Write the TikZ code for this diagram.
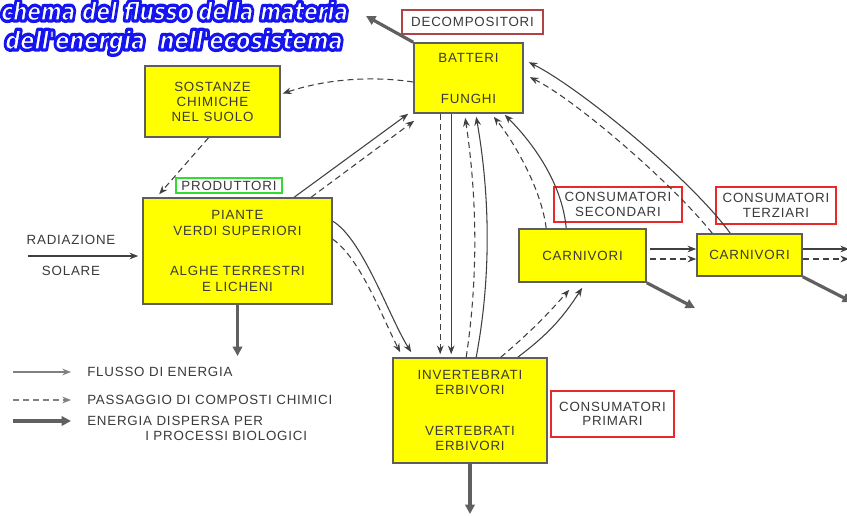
\documentclass[tikz,border=0pt]{standalone}
\usepackage{fontspec}
\usepackage{graphicx}
\setmainfont{Liberation Sans}[LetterSpace=6]
\newfontfamily\titlefont{DejaVu Sans}
\usetikzlibrary{arrows.meta,calc}

\definecolor{boxyellow}{HTML}{FFFF00}
\definecolor{boxedge}{HTML}{5E5E5E}
\definecolor{ink}{HTML}{3A3A3A}
\definecolor{linegray}{HTML}{404040}
\definecolor{lossgray}{HTML}{606060}
\definecolor{tagred}{HTML}{E62A2A}
\definecolor{tagdark}{HTML}{B04444}
\definecolor{taggreen}{HTML}{30DD30}
\definecolor{titleblue}{HTML}{1414F0}

% bubble lettering: a wide blue stroke behind, white letters with a thin blue rim in front
\newcommand\haloed[1]{{\color{white}%
  \rlap{\special{pdf:literal direct q 0.08 0.08 0.94 RG 2.2 w 1 j 1 J 1 Tr}#1\special{pdf:literal direct Q}}%
  \special{pdf:literal direct q 0.08 0.08 0.94 RG 0.5 w 1 j 2 Tr}#1\special{pdf:literal direct Q}}}

\tikzset{
  box/.style={draw=boxedge, line width=1.2pt, fill=boxyellow, inner sep=0pt,
    align=center, text=ink, font=\fontsize{10}{12}\selectfont},
  tag/.style={draw=tagred, line width=0.8pt, fill=white, inner sep=0pt,
    align=center, text=ink, font=\fontsize{10}{11}\selectfont},
  plain/.style={inner sep=0pt, text=ink, font=\fontsize{10}{12}\selectfont},
  flow/.style={draw=linegray, line width=0.8pt, -{Stealth[length=6.5pt,width=5pt]}},
  chem/.style={flow, dash pattern=on 4.5pt off 3pt},
  loss/.style={draw=lossgray, line width=2.4pt, -{Triangle[length=7pt,width=7pt]}},
}

\begin{document}
\begin{tikzpicture}[x=0.75pt,y=-0.75pt]
\fill[white] (0,0) rectangle (847,515);
\useasboundingbox (0,0) rectangle (847,515);

% title
\node[anchor=base west, inner sep=0pt] (titleA) at (1,20)
  {\resizebox{260pt}{14pt}{\titlefont\bfseries\itshape\haloed{chema del flusso della materia}}};
\node[anchor=base west, inner sep=0pt] (titleB) at (5,49)
  {\resizebox{253pt}{14pt}{\titlefont\bfseries\itshape\haloed{dell'energia\ \ nell'ecosistema}}};

% compartments
\node[box, minimum width=81.75pt, minimum height=52.5pt] (batt) at (468.5,78)
  {\raisebox{-2.5pt}{BATTERI}\\[18.75pt]\raisebox{-2.5pt}{FUNGHI}};
\node[box, minimum width=101.25pt, minimum height=53.25pt,
  font=\fontsize{10}{11.25}\selectfont] (sost) at (212.5,101.5)
  {SOSTANZE\\CHIMICHE\\NEL SUOLO};
\node[box, minimum width=141.75pt, minimum height=79.5pt] (piante) at (237.5,251)
  {PIANTE\\VERDI SUPERIORI\\[18pt]ALGHE TERRESTRI\\E LICHENI};
\node[box, minimum width=115.5pt, minimum height=78.75pt,
  font=\fontsize{10}{11.25}\selectfont] (invert) at (470,410.5)
  {INVERTEBRATI\\ERBIVORI\\[19.5pt]VERTEBRATI\\ERBIVORI};
\node[box, minimum width=95.25pt, minimum height=39.75pt] (carn1) at (582.5,255.5) {CARNIVORI};
\node[box, minimum width=78.75pt, minimum height=31.5pt] (carn2) at (749.5,255) {CARNIVORI};

% trophic level tags
\node[tag, draw=tagdark, minimum width=105.75pt, minimum height=18pt] (decomp) at (472.5,22) {DECOMPOSITORI};
\node[tag, draw=taggreen, minimum width=79.5pt, minimum height=11.25pt] (prod) at (229,185.5) {PRODUTTORI};
\node[tag, minimum width=96pt, minimum height=26.25pt] (csec) at (618,204.5) {CONSUMATORI\\SECONDARI};
\node[tag, minimum width=90pt, minimum height=27.75pt] (cter) at (776,205.5) {CONSUMATORI\\TERZIARI};
\node[tag, minimum width=92.25pt, minimum height=34.5pt] (cpri) at (612.5,414) {CONSUMATORI\\PRIMARI};

% solar input
\node[plain] (rad1) at (71,240) {RADIAZIONE};
\node[plain] (rad2) at (71,271) {SOLARE};
\coordinate (sun) at (28,256);
\draw[flow, line width=1.2pt] (sun) -- ($(piante.west)+(-4,5)$);

% decomposers release chemicals to the soil, soil feeds the producers
\draw[chem] ($(batt.west)+(0,4)$) .. controls +(-40,-6) and +(45,-15) .. ($(sost.east)+(2,-8)$);
\draw[chem] ($(sost.south)+(-4,0)$) -- ($(piante.north west)+(17,-3)$);

% producers to decomposers
\draw[flow] ($(piante.north west)+(152,0)$) -- ($(batt.south west)+(-5,0)$);
\draw[chem] ($(piante.north west)+(169,0)$) -- ($(batt.south west)+(1,7)$);

% producers to primary consumers
\draw[flow] ($(piante.north east)+(0,24)$) .. controls +(30,18) and +(-22,-35) .. ($(invert.north west)+(19,-5)$);
\draw[chem] ($(piante.north east)+(0,42)$) .. controls +(28,20) and +(-18,-35) .. ($(invert.north west)+(8,-5)$);

% decomposers and primary consumers
\draw[chem] ($(batt.south west)+(27,0)$) -- ($(invert.north west)+(48,-3)$);
\draw[flow] ($(batt.south west)+(38,0)$) -- ($(invert.north west)+(59,-3)$);
\draw[chem] ($(invert.north west)+(74,0)$) .. controls +(12,-80) and +(12,80) .. ($(batt.south west)+(52,4)$);
\draw[flow] ($(invert.north west)+(84,0)$) .. controls +(15,-80) and +(14,80) .. ($(batt.south west)+(63,3)$);

% primary to secondary consumers
\draw[chem] ($(invert.north east)+(-47,0)$) to[bend right=4] ($(carn1.south west)+(51,7)$);
\draw[flow] ($(invert.north east)+(-30,0)$) to[bend right=10] ($(carn1.south west)+(64,5)$);

% secondary consumers to decomposers
\draw[chem] ($(carn1.north west)+(28,0)$) .. controls +(-5,-40) and +(20,25) .. ($(batt.south east)+(-30,3)$);
\draw[flow] ($(carn1.north west)+(48,0)$) .. controls +(-4,-45) and +(28,28) .. ($(batt.south east)+(-19,1)$);

% tertiary consumers to decomposers
\draw[chem] ($(carn2.north west)+(16,0)$) .. controls +(-40,-50) and +(45,22) .. ($(batt.north east)+(6,35)$);
\draw[flow] ($(carn2.north west)+(34,0)$) .. controls +(-40,-55) and +(50,25) .. ($(batt.north east)+(5,20)$);

% secondary to tertiary consumers, and onwards
\draw[flow] ($(carn1.east)+(3,-6.5)$) -- ($(carn2.west)+(0,-6)$);
\draw[chem] ($(carn1.east)+(3,3.5)$) -- ($(carn2.west)+(0,4)$);
\coordinate (outF) at (849,249);
\coordinate (outC) at (849,259);
\draw[flow] ($(carn2.east)+(0,-6)$) -- (outF);
\draw[chem] ($(carn2.east)+(0,4)$) -- (outC);

% energy dispersed by biological processes
\coordinate (lossB) at (366,16);
\coordinate (lossP) at (237.5,356);
\coordinate (lossI) at (470,514);
\coordinate (lossC1) at (695,308);
\coordinate (lossC2) at (852,302);
\draw[loss] (batt.north west) -- (lossB);
\draw[loss] (piante.south) -- (lossP);
\draw[loss] (invert.south) -- (lossI);
\draw[loss] (carn1.south east) -- (lossC1);
\draw[loss] (carn2.south east) -- (lossC2);

% legend
\coordinate (legAa) at (13,372);  \coordinate (legAb) at (71,372);
\coordinate (legBa) at (13,400);  \coordinate (legBb) at (71,400);
\coordinate (legCa) at (13,421);  \coordinate (legCb) at (71,421);
\draw[flow, draw=gray] (legAa) -- (legAb);
\draw[chem, draw=gray] (legBa) -- (legBb);
\draw[loss] (legCa) -- (legCb);
\node[plain, anchor=west] (legA) at (87,372) {FLUSSO DI ENERGIA};
\node[plain, anchor=west] (legB) at (87,400) {PASSAGGIO DI COMPOSTI CHIMICI};
\node[plain, anchor=west] (legC) at (87,421) {ENERGIA DISPERSA PER};
\node[plain, anchor=west] (legD) at (145,436) {I PROCESSI BIOLOGICI};
\end{tikzpicture}
\end{document}
